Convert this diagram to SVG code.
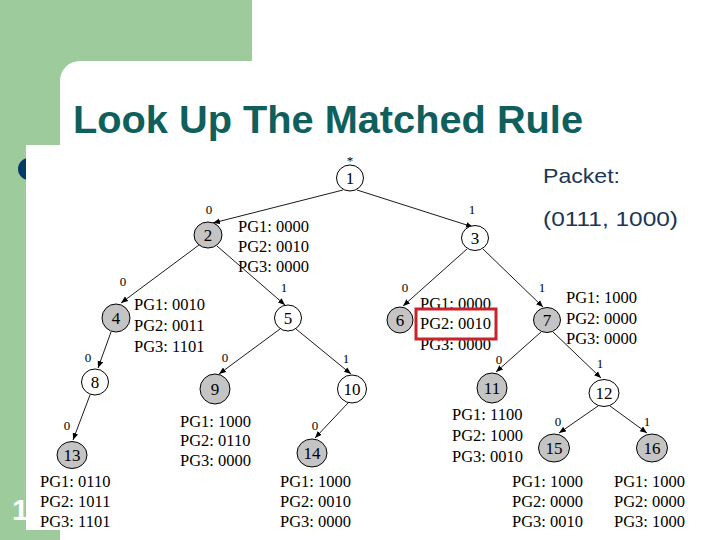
<svg xmlns="http://www.w3.org/2000/svg" width="720" height="540" viewBox="0 0 720 540">
<defs>
<style>
.bg{fill:#9dcb9b}
.title{font-family:"Liberation Sans",Arial,sans-serif;font-weight:bold;font-size:38px;fill:#0f605d}
.pk{font-family:"Liberation Sans",Arial,sans-serif;font-size:21px;fill:#1b3656}
.n circle,.n ellipse{stroke:#000;stroke-width:1}
.g{fill:#c4c4c4}
.w{fill:#fff}
.nl{font-family:"Liberation Serif","Times New Roman",serif;font-size:17px;fill:#000;text-anchor:middle}
.pg{font-family:"Liberation Serif","Times New Roman",serif;font-size:16.5px;fill:#000}
.el{font-family:"Liberation Serif","Times New Roman",serif;font-size:13px;fill:#000;text-anchor:middle}
.edges line{stroke:#000;stroke-width:0.9;marker-end:url(#ah)}
</style>
<marker id="ah" viewBox="0 0 10 10" refX="10" refY="5" markerWidth="7" markerHeight="7" markerUnits="userSpaceOnUse" orient="auto">
<path d="M0,1 L10,5 L0,9 z" fill="#000"/>
</marker>
</defs>
<rect width="720" height="540" fill="#fff"/>
<rect class="bg" x="0" y="0" width="252" height="90"/>
<rect class="bg" x="0" y="0" width="60" height="540"/>
<rect x="60" y="61" width="700" height="520" rx="20" ry="20" fill="#fff"/>
<circle cx="29" cy="169" r="11" fill="#063a66"/>
<text x="12" y="520" font-family="Liberation Sans,Arial,sans-serif" font-weight="bold" font-size="30" fill="#fff">1</text>
<rect x="26" y="145" width="684" height="385" fill="#fff"/>
<text class="title" x="73" y="133" textLength="510" lengthAdjust="spacingAndGlyphs">Look Up The Matched Rule</text>
<text class="pk" x="543" y="183" textLength="77" lengthAdjust="spacingAndGlyphs">Packet:</text>
<text class="pk" x="543" y="226" textLength="135" lengthAdjust="spacingAndGlyphs">(0111, 1000)</text>
<g id="connectors" class="edges">
<line x1="343" y1="190" x2="213" y2="223"/>
<line x1="357" y1="190" x2="473" y2="227"/>
<line x1="199" y1="245" x2="121" y2="303"/>
<line x1="217" y1="246" x2="285" y2="305"/>
<line x1="467" y1="249" x2="403" y2="306"/>
<line x1="483" y1="249" x2="543" y2="307"/>
<line x1="111" y1="332" x2="98" y2="368"/>
<line x1="280" y1="329" x2="219" y2="374"/>
<line x1="296" y1="329" x2="351" y2="374"/>
<line x1="541" y1="332" x2="496" y2="372"/>
<line x1="553" y1="332" x2="601" y2="378"/>
<line x1="90" y1="395" x2="73" y2="440"/>
<line x1="348" y1="403" x2="315" y2="438"/>
<line x1="598" y1="406" x2="559" y2="433"/>
<line x1="610" y1="406" x2="647" y2="433"/>
<text class="el" x="350" y="165" font-size="14">*</text>
<text class="el" x="209" y="214">0</text>
<text class="el" x="472" y="214">1</text>
<text class="el" x="123" y="286">0</text>
<text class="el" x="284" y="292">1</text>
<text class="el" x="405" y="292">0</text>
<text class="el" x="542" y="292">1</text>
<text class="el" x="88" y="362">0</text>
<text class="el" x="225" y="362">0</text>
<text class="el" x="346" y="363">1</text>
<text class="el" x="499" y="364">0</text>
<text class="el" x="600" y="368">1</text>
<text class="el" x="67" y="430">0</text>
<text class="el" x="315" y="430">0</text>
<text class="el" x="558" y="426">0</text>
<text class="el" x="647" y="426">1</text>
</g>
<g id="n1" class="n"><ellipse class="w" cx="350" cy="178" rx="13.5" ry="13"/><text class="nl" x="350" y="184">1</text></g>
<g id="n2" class="n"><ellipse class="g" cx="208" cy="235" rx="14" ry="13"/><text class="nl" x="208" y="241">2</text>
<text class="pg" x="238" y="232">PG1: 0000</text><text class="pg" x="238" y="252">PG2: 0010</text><text class="pg" x="238" y="272">PG3: 0000</text></g>
<g id="n3" class="n"><ellipse class="w" cx="475" cy="238" rx="13.5" ry="12.5"/><text class="nl" x="475" y="244">3</text></g>
<g id="n4" class="n"><ellipse class="g" cx="116" cy="318" rx="14" ry="14"/><text class="nl" x="116" y="324">4</text>
<text class="pg" x="134" y="310">PG1: 0010</text><text class="pg" x="134" y="331">PG2: 0011</text><text class="pg" x="134" y="352">PG3: 1101</text></g>
<g id="n5" class="n"><ellipse class="w" cx="288" cy="318" rx="13.5" ry="13"/><text class="nl" x="288" y="324">5</text></g>
<g id="n6" class="n"><ellipse class="g" cx="400" cy="320" rx="13" ry="13"/><text class="nl" x="400" y="326">6</text>
<text class="pg" x="420" y="309">PG1: 0000</text><text class="pg" x="420" y="350">PG3: 0000</text>
<rect x="416" y="309" width="80" height="30" fill="#fff" stroke="#c8232a" stroke-width="3"/>
<text class="pg" x="420" y="329">PG2: 0010</text></g>
<g id="n7" class="n"><ellipse class="g" cx="547" cy="320" rx="13.5" ry="12.5"/><text class="nl" x="547" y="326">7</text>
<text class="pg" x="566" y="303">PG1: 1000</text><text class="pg" x="566" y="324">PG2: 0000</text><text class="pg" x="566" y="344">PG3: 0000</text></g>
<g id="n8" class="n"><ellipse class="w" cx="95" cy="382" rx="13.5" ry="13"/><text class="nl" x="95" y="388">8</text></g>
<g id="n9" class="n"><ellipse class="g" cx="215" cy="389" rx="15" ry="15"/><text class="nl" x="215" y="395">9</text>
<text class="pg" x="180" y="427">PG1: 1000</text><text class="pg" x="180" y="446">PG2: 0110</text><text class="pg" x="180" y="466">PG3: 0000</text></g>
<g id="n10" class="n"><ellipse class="w" cx="352" cy="389" rx="14.5" ry="14"/><text class="nl" x="352" y="395">10</text></g>
<g id="n11" class="n"><ellipse class="g" cx="492" cy="388" rx="15" ry="15"/><text class="nl" x="492" y="394">11</text>
<text class="pg" x="452" y="420">PG1: 1100</text><text class="pg" x="452" y="441">PG2: 1000</text><text class="pg" x="452" y="462">PG3: 0010</text></g>
<g id="n12" class="n"><ellipse class="w" cx="604" cy="393" rx="15" ry="13.5"/><text class="nl" x="604" y="399">12</text></g>
<g id="n13" class="n"><ellipse class="g" cx="72" cy="455" rx="15" ry="13.5"/><text class="nl" x="72" y="461">13</text>
<text class="pg" x="40" y="487">PG1: 0110</text><text class="pg" x="40" y="507">PG2: 1011</text><text class="pg" x="40" y="527">PG3: 1101</text></g>
<g id="n14" class="n"><ellipse class="g" cx="312" cy="453" rx="15" ry="14"/><text class="nl" x="312" y="459">14</text>
<text class="pg" x="280" y="487">PG1: 1000</text><text class="pg" x="280" y="507">PG2: 0010</text><text class="pg" x="280" y="527">PG3: 0000</text></g>
<g id="n15" class="n"><ellipse class="g" cx="554" cy="448" rx="15.5" ry="14"/><text class="nl" x="554" y="454">15</text>
<text class="pg" x="512" y="487">PG1: 1000</text><text class="pg" x="512" y="507">PG2: 0000</text><text class="pg" x="512" y="527">PG3: 0010</text></g>
<g id="n16" class="n"><ellipse class="g" cx="652" cy="448" rx="15.5" ry="14"/><text class="nl" x="652" y="454">16</text>
<text class="pg" x="614" y="487">PG1: 1000</text><text class="pg" x="614" y="507">PG2: 0000</text><text class="pg" x="614" y="527">PG3: 1000</text></g>
</svg>
